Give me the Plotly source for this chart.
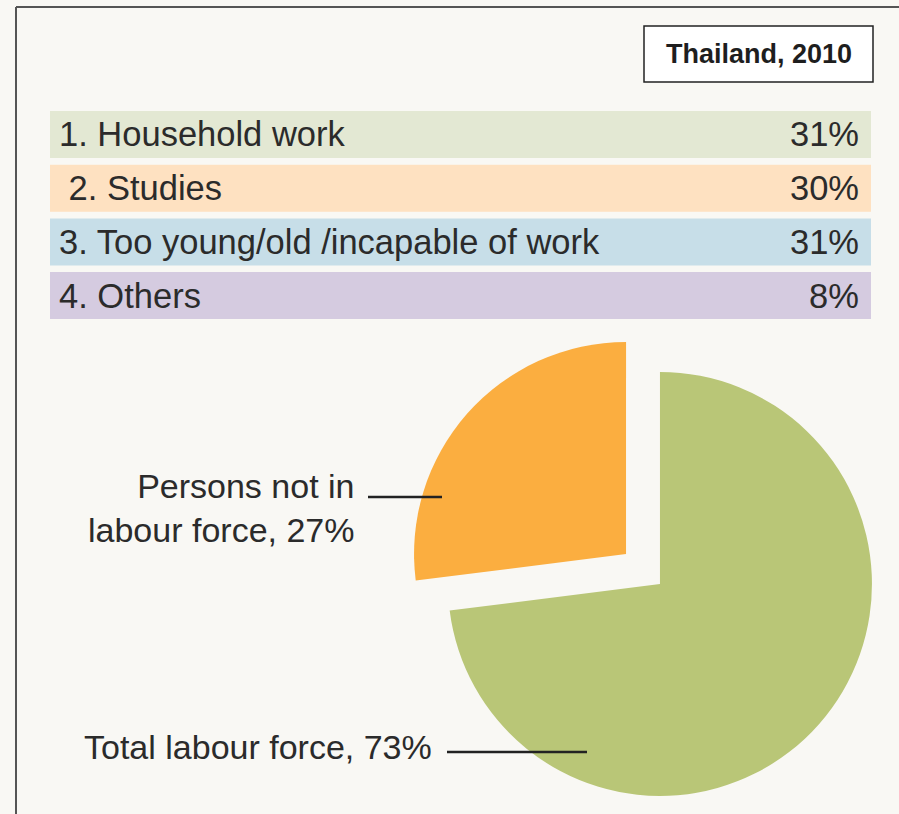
import plotly.graph_objects as go

W, H = 899, 814

# ---- data ----
title_text = "Thailand, 2010"
reasons = ["1. Household work", "\u00a02. Studies", "3. Too young/old /incapable of work", "4. Others"]
reason_shares = [31, 30, 31, 8]
reason_colors = ["#e3e8d3", "#fee1c1", "#c7dee8", "#d5cbe0"]

pie_labels = ["Total labour force", "Persons not in labour force"]
pie_values = [73, 27]
pie_colors = ["#b9c677", "#fbae40"]

FONT = "Liberation Sans, Arial, Helvetica, sans-serif"
TXT = "#2b2b2b"
BG = "#f9f8f4"


def px(x):
    return x / W


def py(y):
    return 1 - y / H


fig = go.Figure()

# pie: pulled slices
cx, cy, half = 643, 569, 234.6
fig.add_trace(go.Pie(
    labels=pie_labels, values=pie_values,
    marker=dict(colors=pie_colors, line=dict(width=0)),
    sort=False, direction="clockwise", rotation=0,
    pull=[0.1067, 0.1067],
    textinfo="none", hoverinfo="label+percent", showlegend=False,
    domain=dict(x=[px(cx - half), px(cx + half)], y=[py(cy + half), py(cy - half)]),
))

shapes = []
annotations = []

# outer border (top and left)
shapes.append(dict(type="line", xref="paper", yref="paper", x0=px(16), x1=px(W + 5),
                   y0=py(7), y1=py(7), line=dict(color="#555555", width=2)))
shapes.append(dict(type="line", xref="paper", yref="paper", x0=px(16), x1=px(16),
                   y0=py(7), y1=py(H + 5), line=dict(color="#555555", width=2)))

# title box
shapes.append(dict(type="rect", xref="paper", yref="paper", x0=px(644), x1=px(873),
                   y0=py(82), y1=py(26), fillcolor="white", line=dict(color="#222222", width=1.5)))
annotations.append(dict(xref="paper", yref="paper", x=px(759), y=py(54), text=f"<b>{title_text}</b>",
                        showarrow=False, xanchor="center", yanchor="middle",
                        font=dict(family=FONT, size=27, color="#1e1e1e")))

# reason bars
top0, step, bh = 111, 53.7, 47
for i, (lab, val, col) in enumerate(zip(reasons, reason_shares, reason_colors)):
    t = top0 + i * step
    shapes.append(dict(type="rect", xref="paper", yref="paper", x0=px(50), x1=px(871),
                       y0=py(t + bh), y1=py(t), fillcolor=col, line=dict(width=0), layer="below"))
    annotations.append(dict(xref="paper", yref="paper", x=px(57), y=py(t + bh / 2), text=lab,
                            showarrow=False, xanchor="left", yanchor="middle",
                            font=dict(family=FONT, size=34.5, color=TXT)))
    annotations.append(dict(xref="paper", yref="paper", x=px(861), y=py(t + bh / 2), text=f"{val}%",
                            showarrow=False, xanchor="right", yanchor="middle",
                            font=dict(family=FONT, size=34.5, color=TXT)))

# pie labels
annotations.append(dict(xref="paper", yref="paper", x=px(357), y=py(508),
                        text=f"Persons not in<br>labour force, {pie_values[1]}%",
                        showarrow=False, xanchor="right", yanchor="middle", align="right",
                        font=dict(family=FONT, size=34, color=TXT)))
annotations.append(dict(xref="paper", yref="paper", x=px(82), y=py(747),
                        text=f"{pie_labels[0]}, {pie_values[0]}%",
                        showarrow=False, xanchor="left", yanchor="middle",
                        font=dict(family=FONT, size=34, color=TXT)))

shapes.append(dict(type="line", xref="paper", yref="paper", x0=px(368), x1=px(442),
                   y0=py(497), y1=py(497), line=dict(color="#222222", width=2.5)))
shapes.append(dict(type="line", xref="paper", yref="paper", x0=px(447), x1=px(587),
                   y0=py(752), y1=py(752), line=dict(color="#222222", width=2.5)))

fig.update_layout(
    width=W, height=H,
    margin=dict(l=0, r=0, t=0, b=0),
    paper_bgcolor=BG, plot_bgcolor=BG,
    shapes=shapes, annotations=annotations,
    showlegend=False,
)

fig.write_html("out.html", config={"displayModeBar": False},
               post_script="document.body.style.margin='0';document.body.style.background='%s';" % BG)
